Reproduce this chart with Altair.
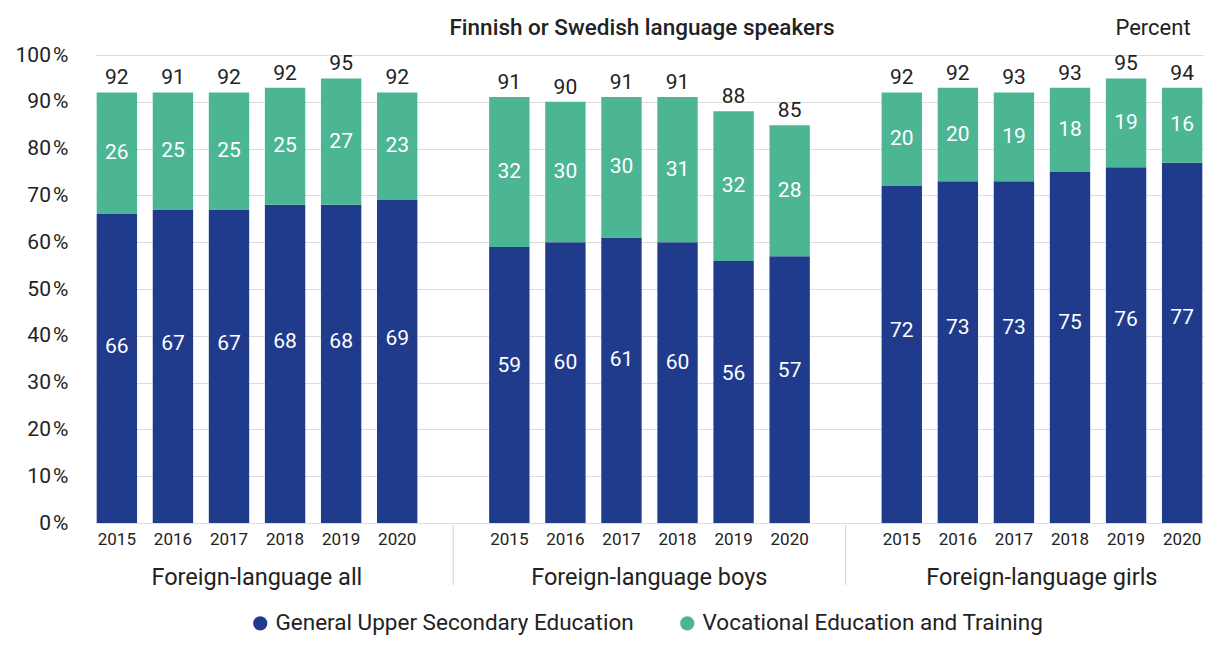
import altair as alt
import pandas as pd

groups = ["Foreign-language all", "Foreign-language boys", "Foreign-language girls"]
years = ["2015", "2016", "2017", "2018", "2019", "2020"]
general = [
    [66, 67, 67, 68, 68, 69],
    [59, 60, 61, 60, 56, 57],
    [72, 73, 73, 75, 76, 77],
]
vocational = [
    [26, 25, 25, 25, 27, 23],
    [32, 30, 30, 31, 32, 28],
    [20, 20, 19, 18, 19, 16],
]
totals = [
    [92, 91, 92, 92, 95, 92],
    [91, 90, 91, 91, 88, 85],
    [92, 92, 93, 93, 95, 94],
]
series = ["General Upper Secondary Education", "Vocational Education and Training"]
colors = ["#213b8c", "#4cb594"]
title_text = "Finnish or Swedish language speakers"
unit_text = "Percent"

FONT = "Roboto"
TXT = "#222222"

slots = []
for gi in range(len(groups)):
    for y in years:
        slots.append(f"{gi}|{y}")
    if gi < len(groups) - 1:
        slots.append(f"gap{gi}")

rows = []
for gi, g in enumerate(groups):
    for yi, y in enumerate(years):
        slot = f"{gi}|{y}"
        gen, voc, tot = general[gi][yi], vocational[gi][yi], totals[gi][yi]
        rows.append(dict(slot=slot, series=series[0], ord=0, value=gen, gen=gen, voc=voc, total=tot))
        rows.append(dict(slot=slot, series=series[1], ord=1, value=voc, gen=gen, voc=voc, total=tot))
df = pd.DataFrame(rows)
tot_df = df[df["ord"] == 0].copy()

grp_df = pd.DataFrame({"slot": [f"{gi}|2018" for gi in range(len(groups))], "label": groups})
sep_df = pd.DataFrame({"slot": [f"gap{gi}" for gi in range(len(groups) - 1)]})
hdr_df = pd.DataFrame({"t": [title_text]})
unit_df = pd.DataFrame({"t": [unit_text]})

W, H = 1109, 468
LEFT = 87

xscale = alt.Scale(domain=slots, paddingInner=0.28, paddingOuter=0.03)
yscale = alt.Scale(domain=[0, 100])

x_axis = alt.Axis(
    title=None,
    labelExpr="indexof(datum.value,'gap')>=0 ? '' : split(datum.value,'|')[1]",
    labelAngle=0, ticks=False, domain=False, labelFontSize=17, labelPadding=8,
    labelColor=TXT, labelFont=FONT, grid=False,
)
y_axis = alt.Axis(
    title=None, values=list(range(0, 101, 10)),
    labelExpr="datum.value + '\u200a%'",
    ticks=False, domain=False, gridColor="#dddddd", labelFontSize=21,
    labelPadding=27, labelColor=TXT, labelFont=FONT,
)

X = lambda **kw: alt.X("slot:N", scale=xscale, axis=x_axis, **kw)

bars = alt.Chart(df).mark_bar().encode(
    x=X(),
    y=alt.Y("value:Q", stack="zero", scale=yscale, axis=y_axis),
    color=alt.Color(
        "series:N",
        scale=alt.Scale(domain=series, range=colors),
        legend=alt.Legend(
            orient="none", legendX=154, legendY=557, direction="horizontal",
            title=None, symbolType="circle", symbolSize=200, labelFontSize=22.5,
            labelFont=FONT, labelColor=TXT, columnPadding=42, labelOffset=4,
            symbolStrokeWidth=0, labelLimit=0,
        ),
    ),
    order=alt.Order("ord:Q"),
)

inner = alt.Chart(df).transform_calculate(
    ly="datum.ord == 0 ? datum.gen * 0.57 : datum.gen + datum.voc / 2"
).mark_text(color="white", fontSize=21, font=FONT, baseline="middle").encode(
    x=X(bandPosition=0.5),
    y=alt.Y("ly:Q", scale=yscale, axis=y_axis),
    text=alt.Text("value:Q"),
)

tops = alt.Chart(tot_df).transform_calculate(
    top="datum.gen + datum.voc"
).mark_text(color=TXT, fontSize=21, font=FONT, baseline="bottom", dy=-4).encode(
    x=X(bandPosition=0.5),
    y=alt.Y("top:Q", scale=yscale, axis=y_axis),
    text=alt.Text("total:Q"),
)

grp = alt.Chart(grp_df).mark_text(color=TXT, fontSize=23.5, font=FONT, baseline="middle", dx=-8).encode(
    x=X(bandPosition=0),
    y=alt.value(H + 55),
    text="label:N",
)

seps = alt.Chart(sep_df).mark_rule(color="#d0d0d0", strokeWidth=1).encode(
    x=X(bandPosition=0.5),
    y=alt.value(H + 2),
    y2=alt.value(H + 62),
)

hdr = alt.Chart(hdr_df).mark_text(color=TXT, fontSize=22.5, font=FONT, fontWeight=500, baseline="middle", align="center").encode(
    x=alt.value(642 - 8 - LEFT), y=alt.value(-27), text="t:N"
)
unit = alt.Chart(unit_df).mark_text(color=TXT, fontSize=22, font=FONT, baseline="middle", align="center").encode(
    x=alt.value(1153 - 8 - LEFT), y=alt.value(-27), text="t:N"
)

chart = alt.layer(bars, inner, tops, grp, seps, hdr, unit).properties(
    width=W, height=H,
    autosize=alt.AutoSizeParams(type="none"),
    padding={"left": LEFT, "top": 47, "right": 0, "bottom": 114},
).configure(font=FONT).configure_view(stroke=None)

chart.save("out.html", embed_options={"renderer": "svg", "actions": False})
